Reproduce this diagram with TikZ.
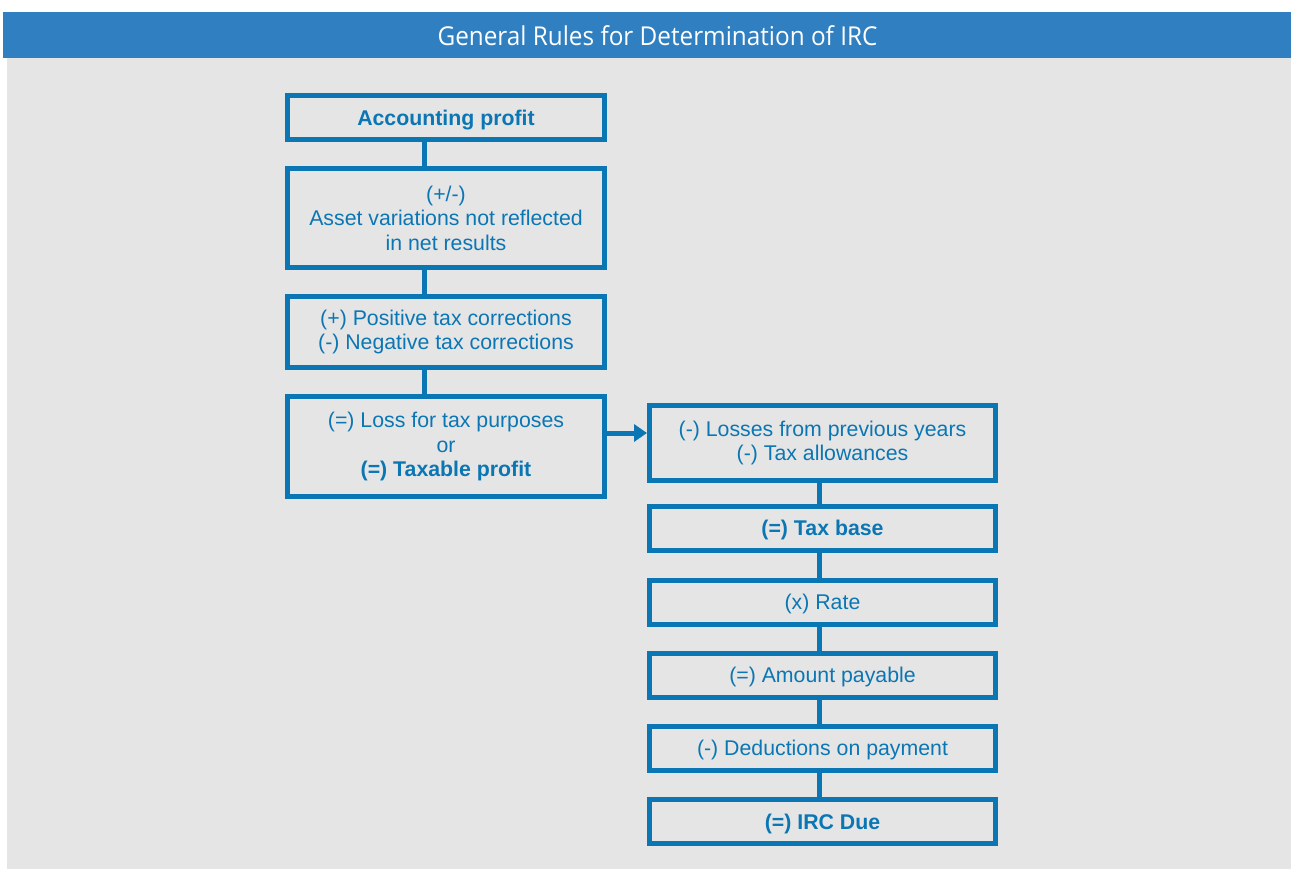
\documentclass[tikz,border=0pt]{standalone}
\usepackage{fontspec}
\usepackage{graphicx}
\setmainfont{Liberation Sans}
\newfontfamily\headfont{Open Sans}
\usetikzlibrary{arrows.meta}
\definecolor{boxblue}{HTML}{0B76B4}
\definecolor{headblue}{HTML}{2F7FC1}
\definecolor{bggray}{HTML}{E5E5E5}
\tikzset{
  stepbox/.style={draw=boxblue, line width=5pt, fill=bggray, text=boxblue,
    align=center, inner sep=0pt, font=\fontsize{21.3}{24.5}\selectfont},
  leftbox/.style={stepbox, minimum width=317pt},
  rightbox/.style={stepbox, minimum width=346pt},
  oneline/.style={text depth=0pt},
  link/.style={draw=boxblue, line width=5pt},
}
\begin{document}
\begin{tikzpicture}[x=1pt,y=-1pt]
\useasboundingbox (0,0) rectangle (1291,870);
\fill[white] (0,0) rectangle (1291,870);
\fill[bggray] (7,58) rectangle (1291,869);
\fill[headblue] (3,12) rectangle (1291,58);
\node[text=white, anchor=base, inner sep=0pt, font=\headfont\fontsize{26}{30}\selectfont] (title) at (657.5,45) {\scalebox{0.935}[1]{General Rules for Determination of IRC}};

\node[leftbox, oneline, minimum height=44pt] (b1) at (446,117.5) {\textbf{Accounting profit}};
\node[leftbox, minimum height=99pt] (b2) at (446,218) {(+/-)\\Asset variations not reflected\\in net results};
\node[leftbox, minimum height=71pt] (b3) at (446,332) {(+) Positive tax corrections\\(-) Negative tax corrections};
\node[leftbox, minimum height=100pt] (b4) at (446,446.5) {(=) Loss for tax purposes\\or\\\textbf{(=) Taxable profit}};

\node[rightbox, minimum height=75pt] (r1) at (822.5,443) {(-) Losses from previous years\\(-) Tax allowances};
\node[rightbox, oneline, minimum height=44pt] (r2) at (822.5,528) {\textbf{(=) Tax base}};
\node[rightbox, oneline, minimum height=44pt] (r3) at (822.5,602) {(x) Rate};
\node[rightbox, oneline, minimum height=44pt] (r4) at (822.5,675) {(=) Amount payable};
\node[rightbox, oneline, minimum height=44pt] (r5) at (822.5,748) {(-) Deductions on payment};
\node[rightbox, oneline, minimum height=44pt] (r6) at (822.5,821.5) {\textbf{(=) IRC Due}};

\coordinate (lx) at (424,0);
\coordinate (rx) at (819,0);
\coordinate (ay) at (0,433);

\draw[link] (b1.south -| lx) -- (b2.north -| lx);
\draw[link] (b2.south -| lx) -- (b3.north -| lx);
\draw[link] (b3.south -| lx) -- (b4.north -| lx);

\draw[link] (r1.south -| rx) -- (r2.north -| rx);
\draw[link] (r2.south -| rx) -- (r3.north -| rx);
\draw[link] (r3.south -| rx) -- (r4.north -| rx);
\draw[link] (r4.south -| rx) -- (r5.north -| rx);
\draw[link] (r5.south -| rx) -- (r6.north -| rx);

\draw[link, -{Triangle[length=13pt,width=17pt]}] (b4.east |- ay) -- (r1.west |- ay);
\end{tikzpicture}
\end{document}
